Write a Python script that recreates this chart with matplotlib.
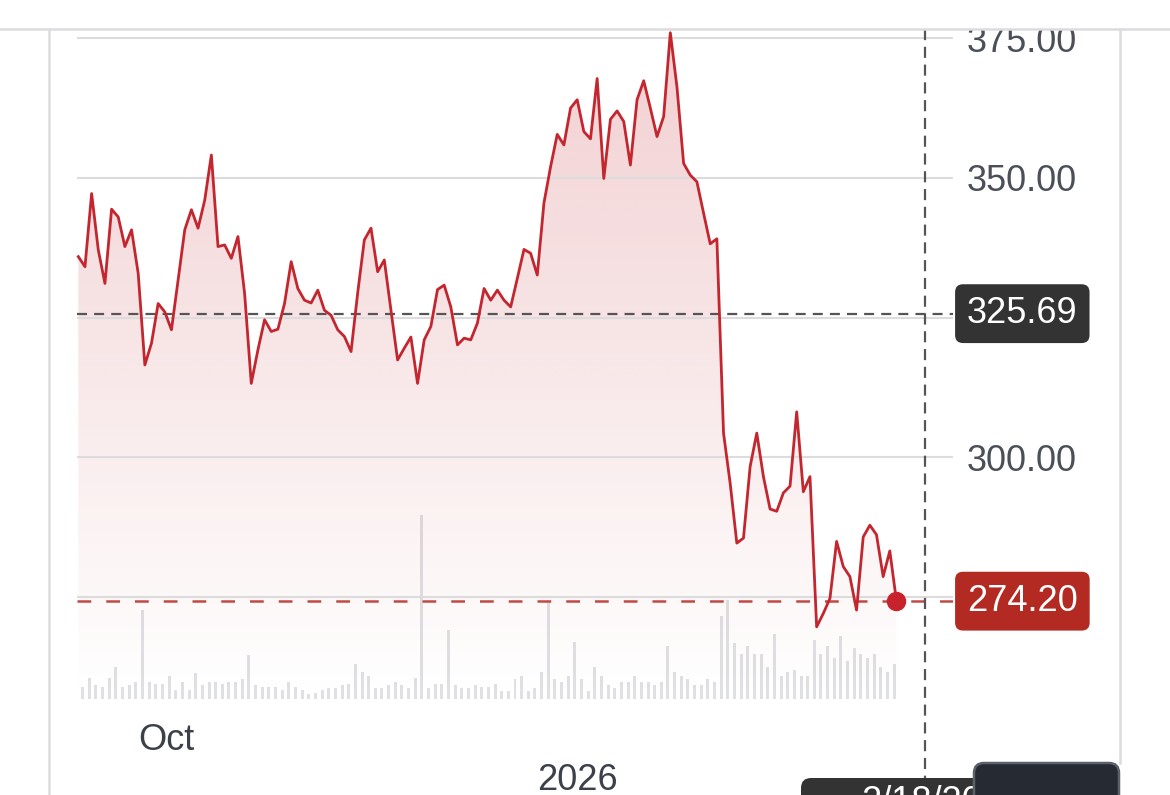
import numpy as np
import matplotlib
matplotlib.use("Agg")
import matplotlib.pyplot as plt
from matplotlib.colors import to_rgb
from matplotlib.patches import FancyBboxPatch, Rectangle
from matplotlib.lines import Line2D
from matplotlib.transforms import blended_transform_factory, IdentityTransform

plt.rcParams["font.family"] = ["Liberation Sans", "DejaVu Sans"]

# daily closes
price = [335.9, 334.1, 347.2, 337.1, 331.1, 344.4, 343.0, 337.7, 340.7, 332.9,
         316.5, 320.4, 327.5, 326.0, 322.8, 331.7, 340.7, 344.3, 341.0, 346.0,
         354.1, 337.7, 338.0, 335.6, 339.5, 329.3, 313.2, 319.2, 324.6, 322.5,
         322.9, 327.5, 335.0, 330.2, 328.1, 327.6, 329.9, 326.3, 325.4, 322.8,
         321.6, 318.9, 329.4, 338.9, 341.0, 333.2, 335.3, 326.3, 317.4, 319.5,
         321.5, 313.2, 321.0, 323.4, 330.0, 330.8, 326.9, 320.1, 321.3, 321.0,
         324.0, 330.2, 328.1, 329.9, 328.1, 326.9, 332.0, 337.2, 336.5, 332.6,
         345.5, 352.0, 357.8, 355.9, 362.5, 364.0, 358.3, 357.0, 367.8, 349.9,
         360.5, 362.0, 360.1, 352.3, 364.0, 367.4, 362.5, 357.4, 361.0, 376.0,
         366.3, 352.6, 350.5, 349.3, 343.7, 338.2, 339.1, 304.3, 295.3, 284.6,
         285.5, 298.3, 304.3, 296.5, 290.7, 290.3, 293.6, 294.8, 308.1, 293.8,
         296.5, 269.6, 272.0, 274.7, 284.9, 280.4, 278.6, 272.6, 285.7, 287.8,
         286.1, 278.6, 283.2, 274.20]

# volume (millions), same days
volume = [2.1, 1.2, 2.1, 1.4, 1.2, 2.1, 3.2, 1.2, 1.4, 1.7,
          8.9, 1.7, 1.5, 1.5, 2.3, 0.9, 1.7, 0.9, 2.6, 1.4,
          1.7, 1.7, 1.5, 1.7, 1.7, 2.0, 4.4, 1.4, 1.2, 1.2,
          1.2, 0.9, 1.7, 1.2, 0.9, 0.5, 0.6, 0.9, 1.1, 1.1,
          1.4, 1.5, 3.5, 2.7, 2.3, 1.1, 1.1, 1.4, 1.7, 1.4,
          1.1, 2.1, 18.4, 1.1, 1.5, 1.5, 6.9, 1.4, 1.1, 1.1,
          1.4, 1.2, 1.2, 1.5, 0.8, 0.8, 2.0, 2.3, 0.8, 1.1,
          2.7, 9.9, 2.0, 1.7, 2.3, 5.7, 2.0, 0.8, 3.2, 2.3,
          1.4, 1.1, 1.7, 1.7, 2.3, 1.7, 1.7, 1.4, 1.7, 5.3,
          2.7, 2.3, 2.0, 1.4, 1.4, 2.0, 1.7, 8.3, 9.9, 5.6,
          4.5, 5.3, 4.5, 4.5, 3.2, 6.5, 2.3, 2.7, 2.9, 2.3,
          2.3, 5.9, 4.5, 5.3, 4.1, 6.3, 3.8, 5.1, 4.5, 4.1,
          4.5, 3.2, 2.7, 3.5]

grid_ticks = [275, 300, 325, 350, 375]
tick_labels = ["", "300.00", "", "350.00", "375.00"]
date_labels = ["Oct", "2026"]
date_label_pos = [13.2, 75.0]
cross_pos = 127.3
cross_price = 325.69
cross_date = "2/18/2026"

W, H = 1170, 795
RED = "#c3262e"


def fx(px):
    return px / W


def fy(py):
    return 1 - py / H


fig = plt.figure(figsize=(W / 100, H / 100), dpi=100)
fig.patch.set_facecolor("white")

x = np.arange(len(price))
xlim = (-0.2, 131.5)

# volume bars
axv = fig.add_axes([fx(77), fy(699), fx(953) - fx(77), 200 / H])
axv.bar(x - 0.35, volume, width=0.45, color="#dfe0e3", linewidth=0)
axv.set_xlim(*xlim)
axv.set_ylim(0, 20)
axv.axis("off")

# price
ax = fig.add_axes([fx(77), fy(700), fx(953) - fx(77), 670 / H])
ax.patch.set_alpha(0)
ymin, ymax = 256.5, 376.49

poly = ax.fill_between(x, price, ymin, facecolor="none", edgecolor="none")
grad = np.zeros((256, 1, 4))
grad[..., :3] = to_rgb(RED)
grad[:, 0, 3] = np.linspace(0, 0.22, 256)
im = ax.imshow(grad, extent=[x[0], x[-1], ymin, ymax], origin="lower",
               aspect="auto", zorder=0, interpolation="bilinear")
im.set_clip_path(poly.get_paths()[0], transform=ax.transData)

ax.plot(x, price, color=RED, lw=2, zorder=4, clip_on=False)
ax.plot(x[-1], price[-1], "o", ms=13, color="#c8232c", zorder=5, clip_on=False)

ax.axhline(price[-1], color="#bf4a46", lw=1.8, dashes=(5.5, 6), zorder=3)
ax.axhline(cross_price, color="#555555", lw=1.6, dashes=(4.5, 3.2), zorder=3)

ax.set_xlim(*xlim)
ax.set_ylim(ymin, ymax)
for s in ax.spines.values():
    s.set_visible(False)
ax.set_xticks([])
ax.set_yticks(grid_ticks, tick_labels)
ax.yaxis.tick_right()
ax.tick_params(axis="y", length=0, pad=10, labelsize=26, labelcolor="#4b4f58")
ax.grid(axis="y", color="#dcdcde", lw=1.5)
ax.set_axisbelow(True)

# vertical crosshair
vtrans = blended_transform_factory(ax.transData, fig.transFigure)
ax.plot([cross_pos, cross_pos], [fy(29), fy(778)], transform=vtrans,
        color="#555555", lw=1.6, dashes=(5, 3), clip_on=False, zorder=3)

# value badges
ltrans = blended_transform_factory(fig.transFigure, ax.transData)
ax.text(fx(967), cross_price, f"{cross_price:.2f}", transform=ltrans,
        color="white", fontsize=26, ha="left", va="center", zorder=6,
        bbox=dict(boxstyle="round,pad=0.33,rounding_size=0.22",
                  fc="#333333", ec="none"))
ax.text(fx(967), price[-1], f"{price[-1]:.2f}", transform=ltrans,
        color="white", fontsize=26, ha="left", va="center", zorder=6,
        bbox=dict(boxstyle="round,pad=0.33,rounding_size=0.22",
                  fc="#b22a22", ec="none"))

# date labels, staggered
for lab, pos, base in zip(date_labels, date_label_pos, [750, 790]):
    ax.text(pos, fy(base), lab, transform=vtrans, ha="center", va="baseline",
            fontsize=26, color="#3c4049", clip_on=False)

# bottom crosshair tooltips (cut off by the screenshot edge)
pix = IdentityTransform()
fig.patches.append(FancyBboxPatch((801, H - 840), 260, 62,
                                  boxstyle="round,pad=0,rounding_size=10",
                                  transform=pix, fc="#333333", ec="none", zorder=5))
fig.text(fx(861), fy(812), cross_date, color="white", fontsize=26,
         ha="left", va="baseline", zorder=6)
fig.patches.append(FancyBboxPatch((974, H - 840), 145, 77,
                                  boxstyle="round,pad=0,rounding_size=10",
                                  transform=pix, fc="#262a33", ec="#5b616b",
                                  lw=1.8, zorder=7))

# top cover and frame
fig.patches.append(Rectangle((0, H - 29), W, 29, transform=pix,
                             fc="white", ec="none", zorder=8))
frame = dict(color="#dcdcdf", lw=1.8, zorder=9, transform=pix)
fig.add_artist(Line2D([0, W], [H - 29, H - 29], **frame))
fig.add_artist(Line2D([49, 49], [0, H - 29], **frame))
fig.add_artist(Line2D([1120, 1120], [H - 763, H - 29], **frame))

fig.savefig("out.png", dpi=100)
